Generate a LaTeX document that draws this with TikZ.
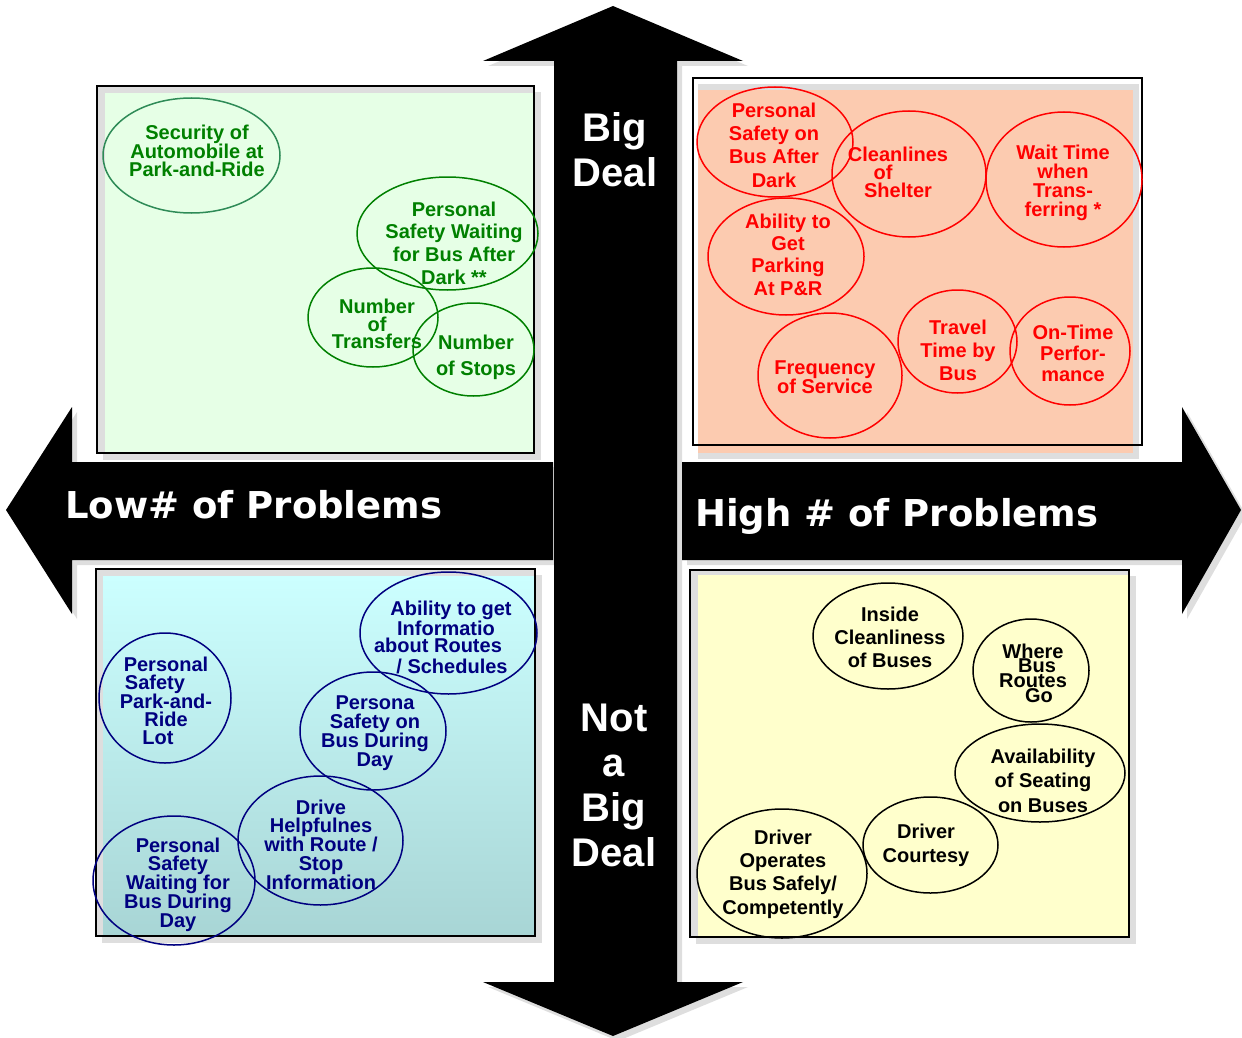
\documentclass[tikz,border=0pt]{standalone}
\usepackage{fontspec}
\setmainfont{Liberation Sans}
\newfontfamily\vfont{DejaVu Sans}
\usetikzlibrary{shapes.geometric}
\definecolor{qgreen}{HTML}{008000}
\definecolor{qsea}{HTML}{2E8B57}
\definecolor{qred}{HTML}{FF0000}
\definecolor{qnavy}{HTML}{000080}
\definecolor{fgreen}{HTML}{E6FFE6}
\definecolor{fpeach}{HTML}{FCCBB0}
\definecolor{fcyanT}{HTML}{CCFFFF}
\definecolor{fcyanB}{HTML}{A8D5D5}
\definecolor{fyel}{HTML}{FFFFCC}
\definecolor{shad}{HTML}{DEDEDE}
\tikzset{
  bub/.style={ellipse, draw=#1, line width=1.5pt, inner sep=0pt},
  tx/.style={font=\bfseries\fontsize{20}{#1}\selectfont, align=center, inner sep=0pt},
  bigtxt/.style={text=white, font=\bfseries\fontsize{40}{45}\selectfont, align=center, inner sep=0pt},
  axistxt/.style={text=white, font=\vfont\bfseries\fontsize{37}{40}\selectfont, inner sep=0pt, anchor=base west},
  frame/.style={draw=black, line width=1.8pt},
  shadowfill/.style={fill=shad},
}
\begin{document}
\begin{tikzpicture}[x=1pt,y=-1pt]
\useasboundingbox (0,0) rectangle (1242,1038);

% ---------- quadrant boxes ----------
% top left
\fill[shadowfill] (103,92) rectangle (541,460);
\fill[shadowfill] (97,86) rectangle (534,453);
\fill[fgreen] (105,93) rectangle (534,453);
\draw[frame] (97,86) rectangle (534,453);
% top right
\fill[shadowfill] (698,84) rectangle (1139,459);
\fill[fpeach] (698,90) rectangle (1133,453);
\draw[frame] (693,78) rectangle (1142,445);
% bottom left
\fill[shadowfill] (102,575) rectangle (542,943);
\fill[shadowfill] (96,569) rectangle (535,936);
\fill[top color=fcyanT, bottom color=fcyanB] (103,576) rectangle (535,936);
\draw[frame] (96,569) rectangle (535,936);
% bottom right
\fill[shadowfill] (696,576) rectangle (1136,944);
\fill[shadowfill] (690,570) rectangle (1129,937);
\fill[fyel] (698,575) rectangle (1129,937);
\draw[frame] (690,570) rectangle (1129,937);

% ---------- arrows ----------
\begin{scope}[xshift=5pt, yshift=-5pt]
\fill[shadowfill] (6,510) -- (72,407) -- (72,462) -- (553,462) -- (553,560) -- (72,560) -- (72,614) -- cycle;
\fill[shadowfill] (1241,510) -- (1182,407) -- (1182,462) -- (682,462) -- (682,560) -- (1182,560) -- (1182,614) -- cycle;
\fill[shadowfill] (613,6) -- (743,61) -- (677,61) -- (677,982) -- (743,982) -- (613,1036) -- (483,982) -- (554,982) -- (554,61) -- (483,61) -- cycle;
\end{scope}
\fill[black] (6,510) -- (72,407) -- (72,462) -- (553,462) -- (553,560) -- (72,560) -- (72,614) -- cycle;
\fill[black] (1241,510) -- (1182,407) -- (1182,462) -- (682,462) -- (682,560) -- (1182,560) -- (1182,614) -- cycle;
\fill[black] (613,6) -- (743,61) -- (677,61) -- (677,982) -- (743,982) -- (613,1036) -- (483,982) -- (554,982) -- (554,61) -- (483,61) -- cycle;

\node[bigtxt] (bigdeal) at (615,150) {Big\\Deal};
\node[bigtxt] (notbig) at (614,785) {Not\\a\\Big\\Deal};
\node[axistxt] (low) at (65,518) {Low\# of Problems};
\node[axistxt] (high) at (695,526) {High \# of Problems};

% ---------- top left (green) ----------
\node[bub=qsea, minimum width=177pt, minimum height=115pt] (tl1) at (191.5,155.5) {};
\node[tx=18, text=qgreen] (tl1t) at (197,151) {Security of\\Automobile at\\Park-and-Ride};
\node[bub=qgreen, minimum width=181pt, minimum height=113pt] (tl2) at (447.5,233.5) {};
\node[tx=22.6, text=qgreen] (tl2t) at (454,243) {Personal\\Safety Waiting\\for Bus After\\Dark **};
\node[bub=qgreen, minimum width=130pt, minimum height=99pt] (tl3) at (373,317.5) {};
\node[tx=17.5, text=qgreen] (tl3t) at (377,324) {Number\\of\\Transfers};
\node[bub=qgreen, minimum width=121pt, minimum height=93pt] (tl4) at (473.5,349.5) {};
\node[tx=26, text=qgreen] (tl4t) at (476,357) {Number\\of Stops};

% ---------- top right (red) ----------
\node[bub=qred, minimum width=156pt, minimum height=110pt] (tr1) at (775,142) {};
\node[tx=23.3, text=qred] (tr1t) at (774,145) {Personal\\Safety on\\Bus After\\Dark};
\node[bub=qred, minimum width=154pt, minimum height=126pt] (tr2) at (909,174) {};
\node[tx=18, text=qred] (tr2t) at (898,172) {Cleanlines\\of\hspace*{30pt}\null\\Shelter};
\node[bub=qred, minimum width=156pt, minimum height=135pt] (tr3) at (1064,179.5) {};
\node[tx=19, text=qred] (tr3t) at (1063,182.5) {Wait Time\\when\\Trans-\\ferring *};
\node[bub=qred, minimum width=156pt, minimum height=117pt] (tr4) at (786,256.5) {};
\node[tx=22.3, text=qred] (tr4t) at (788,254.5) {Ability to\\Get\\Parking\\At P\&R};
\node[bub=qred, minimum width=144pt, minimum height=125pt] (tr5) at (830,375.5) {};
\node[tx=19, text=qred] (tr5t) at (825,377.5) {Frequency\\of Service};
\node[bub=qred, minimum width=119pt, minimum height=103pt] (tr6) at (957.5,341.5) {};
\node[tx=23, text=qred] (tr6t) at (958,350) {Travel\\Time by\\Bus};
\node[bub=qred, minimum width=120pt, minimum height=108pt] (tr7) at (1070,351) {};
\node[tx=21, text=qred] (tr7t) at (1073,353) {On-Time\\Perfor-\\mance};

% ---------- bottom left (navy) ----------
\node[bub=qnavy, minimum width=177pt, minimum height=122pt] (bl1) at (448.5,633) {};
\node[tx=17, text=qnavy] (bl1t) at (446,637.5) {\hspace*{10pt}Ability to get\\Informatio\\about Routes\hspace*{16pt}\null\\[4pt]\hspace*{12pt}/ Schedules};
\node[bub=qnavy, minimum width=132pt, minimum height=130pt] (bl2) at (165,698) {};
\node[tx=18, text=qnavy] (bl2t) at (166,701) {Personal\\Safety\hspace*{22pt}\null\\Park-and-\\Ride\\Lot\hspace*{16pt}\null};
\node[bub=qnavy, minimum width=146pt, minimum height=118pt] (bl3) at (373,731) {};
\node[tx=19, text=qnavy] (bl3t) at (375,733.5) {Persona\\Safety on\\Bus During\\Day};
\node[bub=qnavy, minimum width=165pt, minimum height=129pt] (bl4) at (320.5,840.5) {};
\node[tx=18.75, text=qnavy] (bl4t) at (321,844.5) {Drive\\Helpfulnes\\with Route /\\Stop\\Information};
\node[bub=qnavy, minimum width=162pt, minimum height=129pt] (bl5) at (174,880.5) {};
\node[tx=18.75, text=qnavy] (bl5t) at (178,884.5) {Personal\\Safety\\Waiting for\\Bus During\\Day};

% ---------- bottom right (black) ----------
\node[bub=black, minimum width=150pt, minimum height=106pt] (br1) at (888,636) {};
\node[tx=23, text=black] (br1t) at (890,637) {Inside\\Cleanliness\\of Buses};
\node[bub=black, minimum width=116pt, minimum height=103pt] (br2) at (1031,670.5) {};
\node[tx=14.7, text=black] (br2t) at (1033,673) {Where\\\hspace*{8pt}Bus\\Routes\\\hspace*{12pt}Go};
\node[bub=black, minimum width=170pt, minimum height=98pt] (br3) at (1040,773) {};
\node[tx=24.5, text=black] (br3t) at (1043,780.5) {Availability\\of Seating\\on Buses};
\node[bub=black, minimum width=135pt, minimum height=96pt] (br4) at (930.5,845) {};
\node[tx=24, text=black] (br4t) at (926,845) {Driver\\Courtesy};
\node[bub=black, minimum width=170pt, minimum height=129pt] (br5) at (782,873.5) {};
\node[tx=23.3, text=black] (br5t) at (783,874) {Driver\\Operates\\Bus Safely/\\Competently};
\end{tikzpicture}
\end{document}
